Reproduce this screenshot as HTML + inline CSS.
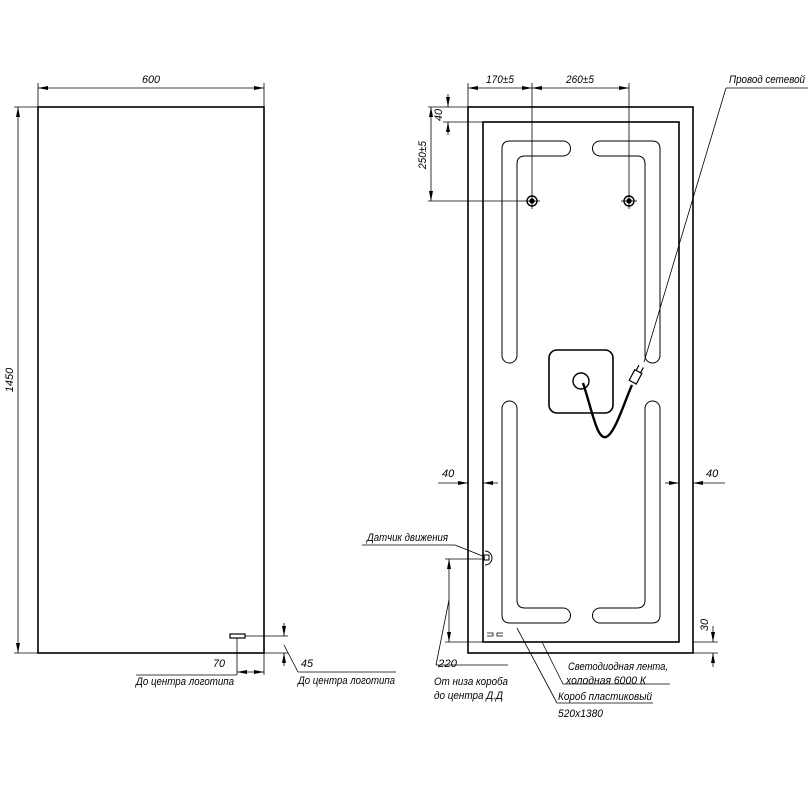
<!DOCTYPE html>
<html><head><meta charset="utf-8"><style>
html,body{margin:0;padding:0;background:#fff}
svg{display:block}
text{font-family:"Liberation Sans",sans-serif;font-size:11px;fill:#000;font-style:italic}
</style></head><body>
<svg width="808" height="808" viewBox="0 0 808 808" xmlns="http://www.w3.org/2000/svg">
<defs>
<marker id="a" viewBox="0 0 10 4" refX="10" refY="2" markerWidth="10" markerHeight="4" orient="auto-start-reverse" markerUnits="userSpaceOnUse"><path d="M0,0 L10,2 L0,4z" fill="#000"/></marker>
</defs>
<g stroke="#000" fill="none">
<!-- LEFT VIEW -->
<rect x="38" y="107" width="226" height="546" stroke-width="1.6"/>
<g stroke-width="0.8">
<line x1="38" y1="83" x2="38" y2="107"/><line x1="264" y1="83" x2="264" y2="107"/>
<line x1="38" y1="88" x2="264" y2="88" marker-start="url(#a)" marker-end="url(#a)"/>
<line x1="14" y1="107" x2="38" y2="107"/><line x1="14" y1="653" x2="38" y2="653"/>
<line x1="18" y1="107" x2="18" y2="653" marker-start="url(#a)" marker-end="url(#a)"/>
<rect x="230" y="634" width="15" height="4" stroke-width="1.2"/>
<line x1="237" y1="638" x2="237" y2="675"/>
<line x1="245" y1="636" x2="288" y2="636"/>
<line x1="264" y1="653" x2="288" y2="653"/>
<line x1="237" y1="672" x2="264" y2="672" marker-start="url(#a)" marker-end="url(#a)"/>
<line x1="264" y1="653" x2="264" y2="675"/>
<line x1="136" y1="675" x2="237" y2="675"/>
<line x1="284" y1="623" x2="284" y2="636" marker-end="url(#a)"/>
<line x1="284" y1="666" x2="284" y2="653" marker-end="url(#a)"/>
<line x1="284" y1="645" x2="298" y2="672"/>
<line x1="298" y1="672" x2="396" y2="672"/>
</g>
<!-- RIGHT VIEW -->
<rect x="468" y="107" width="225" height="546" stroke-width="1.6"/>
<rect x="483" y="122" width="196" height="520" stroke-width="1.6"/>
<g stroke-width="1">
<path d="M563,141 L510,141 Q502,141 502,149 L502,355.5 A7.5,7.5 0 0 0 517,355.5 L517,164 Q517,156 525,156 L563,156 A7.5,7.5 0 0 0 563,141Z"/>
<path d="M600,141 L652,141 Q660,141 660,149 L660,355.5 A7.5,7.5 0 0 1 645,355.5 L645,164 Q645,156 637,156 L600,156 A7.5,7.5 0 0 1 600,141Z"/>
<path d="M563,623 L510,623 Q502,623 502,615 L502,408.5 A7.5,7.5 0 0 1 517,408.5 L517,600 Q517,608 525,608 L563,608 A7.5,7.5 0 0 1 563,623Z"/>
<path d="M600,623 L652,623 Q660,623 660,615 L660,408.5 A7.5,7.5 0 0 0 645,408.5 L645,600 Q645,608 637,608 L600,608 A7.5,7.5 0 0 0 600,623Z"/>
</g>
<rect x="549" y="350" width="64" height="63" rx="8" stroke-width="1.6"/>
<circle cx="581" cy="381" r="8" stroke-width="1.4"/>
<path d="M583,383 C592,410 597,440 606,437 C615,434 625,400 632,385" stroke-width="2.4"/>
<g transform="translate(636,376) rotate(-62)" stroke-width="1.2">
<rect x="-7" y="-4" width="12" height="8" fill="#fff"/>
<line x1="5" y1="-2.5" x2="11" y2="-2.5"/><line x1="5" y1="2.5" x2="11" y2="2.5"/>
</g>
<g stroke-width="1.4"><circle cx="532" cy="201" r="5"/><circle cx="629" cy="201" r="5"/></g>
<circle cx="532" cy="201" r="2.2" fill="#000"/><circle cx="629" cy="201" r="2.2" fill="#000"/>
<g stroke-width="0.8">
<line x1="524" y1="201" x2="540" y2="201"/><line x1="621" y1="201" x2="637" y2="201"/>
<line x1="532" y1="83" x2="532" y2="209"/><line x1="629" y1="83" x2="629" y2="209"/>
<line x1="468" y1="83" x2="468" y2="107"/>
<line x1="468" y1="88" x2="532" y2="88" marker-start="url(#a)" marker-end="url(#a)"/>
<line x1="532" y1="88" x2="629" y2="88" marker-start="url(#a)" marker-end="url(#a)"/>
<line x1="428" y1="107" x2="468" y2="107"/><line x1="443" y1="122" x2="483" y2="122"/>
<line x1="448" y1="94" x2="448" y2="107" marker-end="url(#a)"/>
<line x1="448" y1="135" x2="448" y2="122" marker-end="url(#a)"/>
<line x1="428" y1="201" x2="524" y2="201"/>
<line x1="431" y1="107" x2="431" y2="201" marker-start="url(#a)" marker-end="url(#a)"/>
<line x1="726" y1="88" x2="808" y2="88"/>
<line x1="726" y1="88" x2="644" y2="362"/>
<line x1="438" y1="483" x2="468" y2="483" marker-end="url(#a)"/>
<line x1="498" y1="483" x2="483" y2="483" marker-end="url(#a)"/>
<line x1="665" y1="483" x2="679" y2="483" marker-end="url(#a)"/>
<line x1="725" y1="483" x2="693" y2="483" marker-end="url(#a)"/>
<line x1="362" y1="545" x2="455" y2="545"/>
<line x1="455" y1="545" x2="485" y2="557"/>
<path d="M485,551 A7,7 0 0 1 485,565" stroke-width="1"/>
<rect x="484" y="555" width="5" height="5" stroke-width="1"/>
<line x1="445" y1="559" x2="485" y2="559"/>
<line x1="445" y1="642" x2="483" y2="642"/>
<line x1="449" y1="559" x2="449" y2="642" marker-start="url(#a)" marker-end="url(#a)"/>
<line x1="449" y1="600" x2="436" y2="665"/>
<line x1="436" y1="665" x2="508" y2="665"/>
<path d="M487,633 h6 v3 h-6" /><path d="M503,633 h-6 v3 h6"/>
<line x1="693" y1="642" x2="718" y2="642"/><line x1="693" y1="653" x2="718" y2="653"/>
<line x1="713" y1="626" x2="713" y2="642" marker-end="url(#a)"/>
<line x1="713" y1="667" x2="713" y2="653" marker-end="url(#a)"/>
<line x1="542" y1="642" x2="563" y2="684"/>
<line x1="563" y1="684" x2="670" y2="684"/>
<line x1="517" y1="628" x2="557" y2="703"/>
<line x1="557" y1="703" x2="653" y2="703"/>
</g>
</g>
<g style="font-style:normal">
<text x="142" y="83" textLength="18" lengthAdjust="spacingAndGlyphs">600</text>
<text transform="translate(13,380) rotate(-90)" text-anchor="middle">1450</text>
<text x="213" y="667" textLength="12" lengthAdjust="spacingAndGlyphs">70</text>
<text x="301" y="667" textLength="12" lengthAdjust="spacingAndGlyphs">45</text>
<text x="136" y="685" textLength="98" lengthAdjust="spacingAndGlyphs">До центра логотипа</text>
<text x="298" y="684" textLength="97" lengthAdjust="spacingAndGlyphs">До центра логотипа</text>
<text x="486" y="83" textLength="28" lengthAdjust="spacingAndGlyphs">170±5</text>
<text x="566" y="83" textLength="28" lengthAdjust="spacingAndGlyphs">260±5</text>
<text x="729" y="83" textLength="76" lengthAdjust="spacingAndGlyphs">Провод сетевой</text>
<text transform="translate(442,115) rotate(-90)" text-anchor="middle">40</text>
<text transform="translate(426,155) rotate(-90)" text-anchor="middle" textLength="28" lengthAdjust="spacingAndGlyphs">250±5</text>
<text x="442" y="477">40</text>
<text x="706" y="477">40</text>
<text x="367" y="541" textLength="81" lengthAdjust="spacingAndGlyphs">Датчик движения</text>
<text x="438" y="667" textLength="19" lengthAdjust="spacingAndGlyphs">220</text>
<text x="434" y="685" textLength="74" lengthAdjust="spacingAndGlyphs">От низа короба</text>
<text x="434" y="699" textLength="69" lengthAdjust="spacingAndGlyphs">до центра Д.Д</text>
<text transform="translate(708,625) rotate(-90)" text-anchor="middle">30</text>
<text x="568" y="670" textLength="100" lengthAdjust="spacingAndGlyphs">Светодиодная лента,</text>
<text x="566" y="684" textLength="80" lengthAdjust="spacingAndGlyphs">холодная 6000 К</text>
<text x="558" y="700" textLength="94" lengthAdjust="spacingAndGlyphs">Короб пластиковый</text>
<text x="558" y="717" textLength="45" lengthAdjust="spacingAndGlyphs">520х1380</text>
</g>
</svg>
</body></html>
